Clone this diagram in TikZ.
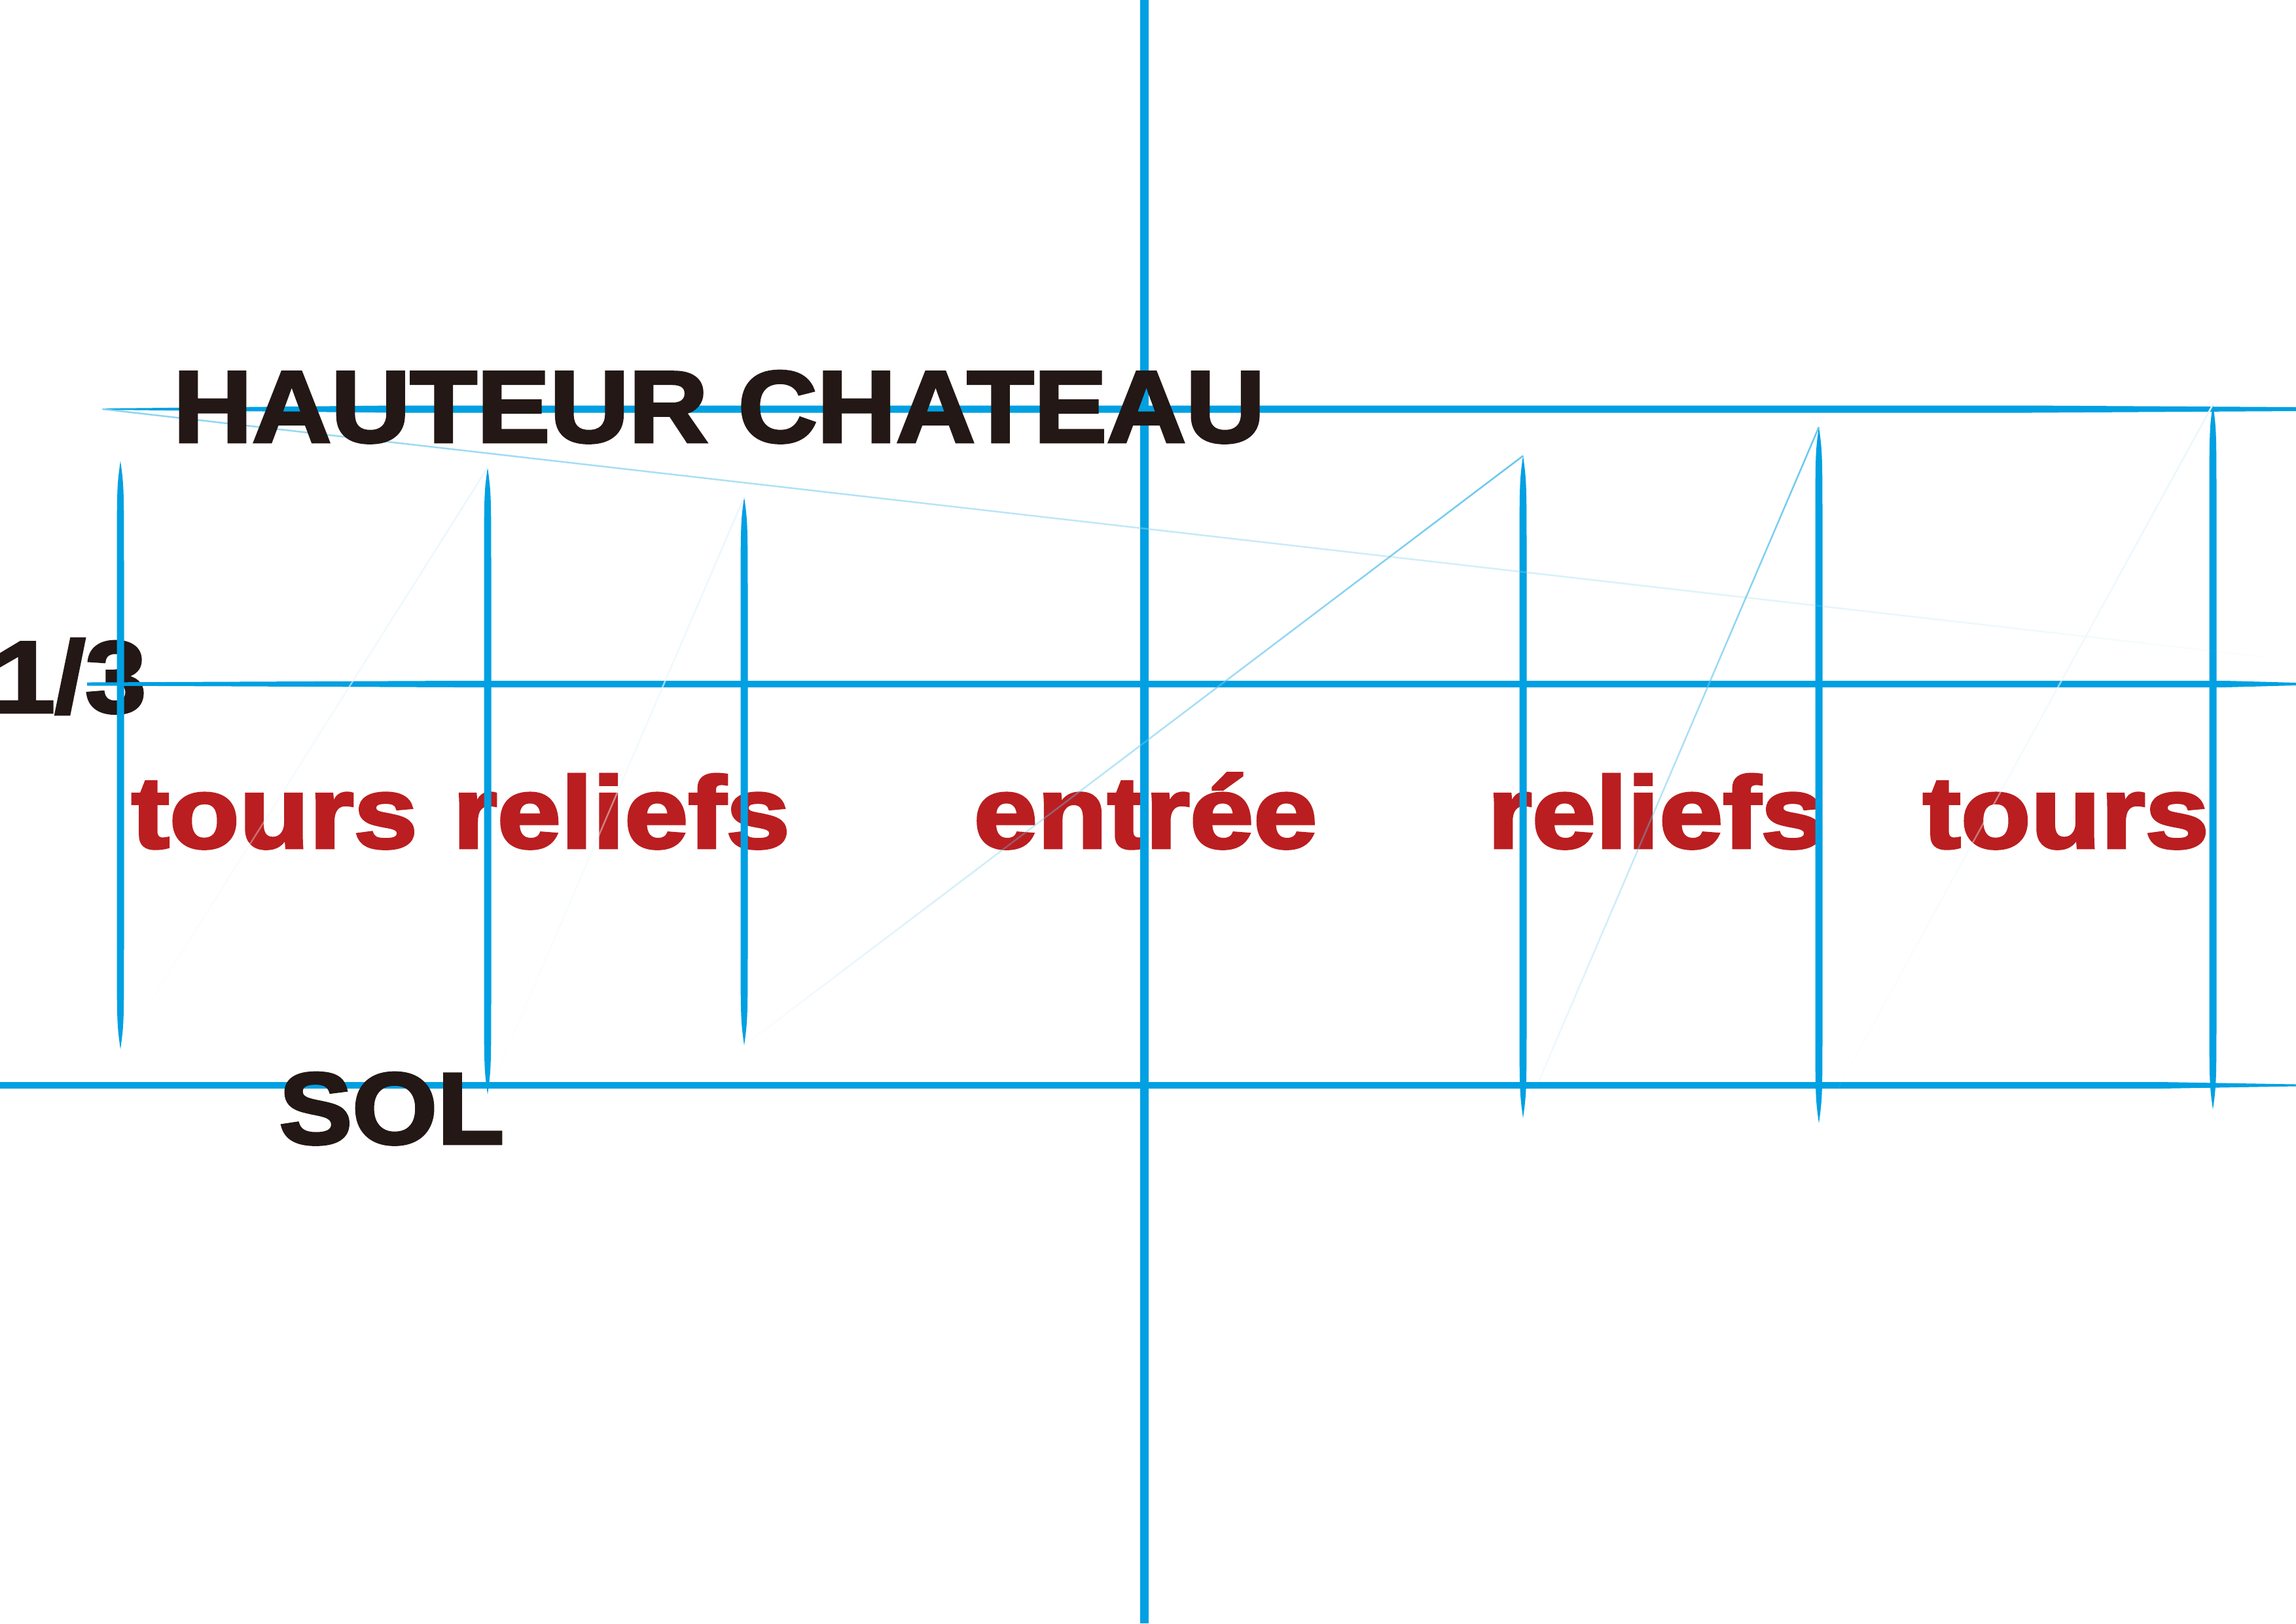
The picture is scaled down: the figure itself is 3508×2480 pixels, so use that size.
\documentclass[tikz,border=0pt]{standalone}
\usepackage{fontspec}
\usetikzlibrary{fadings}

\newfontfamily\heavyfont{Liberation Sans Bold}[FakeBold=3,FakeStretch=1.08]
\newfontfamily\heavyredfont{Liberation Sans Bold}[FakeBold=3,FakeStretch=1.13]

\definecolor{skyline}{RGB}{0,160,226}
\definecolor{rougetxt}{RGB}{186,30,32}
\definecolor{noirtxt}{RGB}{35,24,21}

\tikzfading[name=fade down, top color=transparent!0, bottom color=transparent!100]
\tikzfading[name=fade right, left color=transparent!0, right color=transparent!100]

\tikzset{
  trait/.style={fill=skyline},
  axe/.style={draw=skyline, line width=0.13cm},
  fuite/.style={line width=0.025cm},
  titre/.style={font=\heavyfont\fontsize{44}{50}\selectfont, text=noirtxt, inner sep=0pt},
  zone/.style={font=\heavyredfont\fontsize{44}{50}\selectfont, text=rougetxt, inner sep=0pt, anchor=base west},
}

\begin{document}
\begin{tikzpicture}[x=0.01cm, y=-0.01cm]
	 \useasboundingbox (0,0) rectangle (3508,2480);
	 \fill[white] (0,0) rectangle (3508,2480);
	 
	 % zones (sous les traits)
	 \node[zone] (tours1) at (200,1295) {tours};
	 \node[zone] (reliefs1) at (691,1295) {reliefs};
	 \node[zone] (entree) at (1487,1295) {entrée};
	 \node[zone] (reliefs2) at (2272,1295) {reliefs};
	 \node[zone] (tours2) at (2937,1295) {tours};
	 \node[titre, anchor=base east] (tiers) at (224,1088) {1/3};
	 
	 % lignes horizontales
	 \fill[trait] (157,624) -- (600,619.5) -- (3100,619.5) -- (3508,622) -- (3508,628) -- (3100,630.5) -- (600,630.5) -- (157,626) -- cycle;
	 \fill[trait] (133,1042.5) -- (700,1040) -- (3400,1040) -- (3508,1043) -- (3508,1047) -- (3400,1050) -- (700,1050) -- (133,1047.5) -- cycle;
	 \fill[trait] (0,1653) -- (3300,1653) -- (3508,1656.5) -- (3508,1659.5) -- (3300,1663) -- (0,1663) -- cycle;
	 
	 % axe central
	 \draw[axe] (1748,0) -- (1748,2480);
	 
	 % montants
	 \foreach \n/\x/\t/\b in {1/184/704/1603, 2/745/714/1672, 3/1137/759/1597, 4/2327/696/1708, 5/2779/652/1716, 6/3381/617/1695}
	 {
	 \coordinate (t\n) at (\x,\t);
	 \coordinate (b\n) at (\x,\b);
	 \fill[trait] (\x,\t) .. controls (\x+5.5,\t+40) .. (\x+5.5,\t+180) -- (\x+5.5,\b-180) .. controls (\x+5.5,\b-40) .. (\x,\b) .. controls (\x-5.5,\b-40) .. (\x-5.5,\b-180) -- (\x-5.5,\t+180) .. controls (\x-5.5,\t+40) .. (\x,\t) -- cycle;
	 }
	 
	 % fuyantes
	 \coordinate (gauche) at (157,625);
	 \coordinate (droite) at (3508,1009);
	 \draw[fuite, draw=skyline!45, path fading=fade right] (gauche) -- (droite);
	 \draw[fuite, draw=skyline!60, path fading=fade down] (t4) -- (b3);
	 \draw[fuite, draw=skyline!60, path fading=fade down] (t5) -- (b4);
	 \draw[fuite, draw=skyline!8, path fading=fade down] (t2) -- (b1);
	 \draw[fuite, draw=skyline!8, path fading=fade down] (t3) -- (b2);
	 \draw[fuite, draw=skyline!8, path fading=fade down] (t6) -- (b5);
	 
	 % titres (sur les traits)
	 \node[titre, anchor=base west] (hauteur) at (264,675) {HAUTEUR CHATEAU};
	 \node[titre, anchor=base west] (sol) at (426,1747) {SOL};
\end{tikzpicture}
\end{document}
